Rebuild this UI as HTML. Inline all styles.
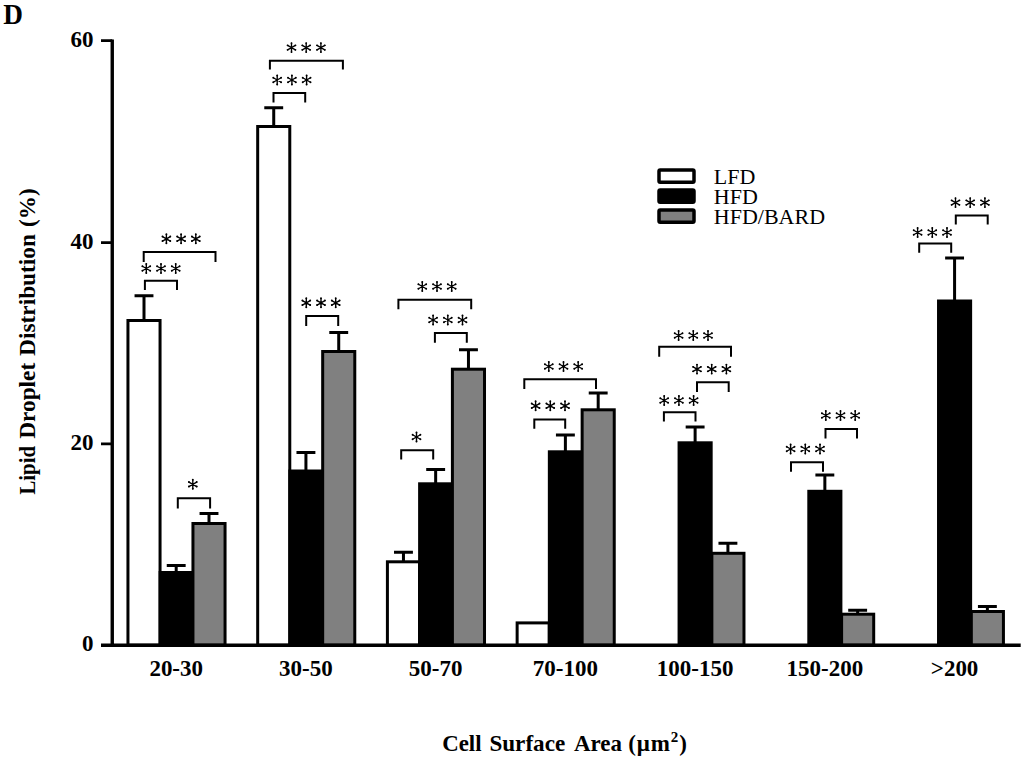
<!DOCTYPE html>
<html><head><meta charset="utf-8"><style>
html,body{margin:0;padding:0;background:#fff;width:1024px;height:760px;overflow:hidden}
svg{display:block}
text{font-family:"Liberation Serif",serif}
.b{font-weight:bold;font-size:23px}
.r{font-size:22px}
</style></head><body>
<svg width="1024" height="760" viewBox="0 0 1024 760">
<rect width="1024" height="760" fill="#fff"/>
<text transform="translate(3.3 23.9) scale(0.94 1)" style="font-weight:bold;font-size:29px">D</text>
<g class="b" text-anchor="end">
<text transform="translate(93.5 47.3) scale(1 1.0)">60</text>
<text transform="translate(93.5 248.7) scale(1 1.0)">40</text>
<text transform="translate(93.5 449.8) scale(1 1.0)">20</text>
<text transform="translate(93.5 650.8) scale(1 1.0)">0</text>
</g>
<g class="b" text-anchor="middle"><text transform="translate(176.2 675.8) scale(1 1.03)">20-30</text><text transform="translate(305.93 675.8) scale(1 1.03)">30-50</text><text transform="translate(435.66 675.8) scale(1 1.03)">50-70</text><text transform="translate(565.39 675.8) scale(1 1.03)">70-100</text><text transform="translate(695.12 675.8) scale(1 1.03)">100-150</text><text transform="translate(824.85 675.8) scale(1 1.03)">150-200</text><text transform="translate(954.58 675.8) scale(1 1.03)">&gt;200</text></g>
<g class="b" transform="translate(35 0) rotate(-90)">
<text x="-494.6" textLength="48.6" lengthAdjust="spacingAndGlyphs">Lipid</text>
<text x="-438.8" textLength="76" lengthAdjust="spacingAndGlyphs">Droplet</text>
<text x="-355.9" textLength="121.9" lengthAdjust="spacingAndGlyphs">Distribution</text>
<text x="-226.9" textLength="38.6" lengthAdjust="spacingAndGlyphs">(%)</text>
</g>
<g class="b">
<text x="442.2" y="751" textLength="39.4" lengthAdjust="spacingAndGlyphs">Cell</text>
<text x="489.4" y="751" textLength="75.8" lengthAdjust="spacingAndGlyphs">Surface</text>
<text x="574" y="751" textLength="48" lengthAdjust="spacingAndGlyphs">Area</text>
<text x="628.3" y="751" letter-spacing="0.9">(&#956;m<tspan dy="-9" font-size="15">2</tspan><tspan dy="9">)</tspan></text>
</g>
<rect x="127.95" y="320.5" width="32.1" height="324.7" fill="#fff" stroke="#000" stroke-width="3.0"/>
<rect x="160.15" y="572.5" width="32.1" height="72.7" fill="#000" stroke="#000" stroke-width="3.0"/>
<rect x="192.95" y="523.5" width="32.1" height="121.7" fill="#808080" stroke="#000" stroke-width="3.0"/>
<rect x="257.68" y="126.5" width="32.1" height="518.7" fill="#fff" stroke="#000" stroke-width="3.0"/>
<rect x="289.88" y="471" width="32.1" height="174.2" fill="#000" stroke="#000" stroke-width="3.0"/>
<rect x="322.68" y="351.5" width="32.1" height="293.7" fill="#808080" stroke="#000" stroke-width="3.0"/>
<rect x="387.41" y="561.8" width="32.1" height="83.4" fill="#fff" stroke="#000" stroke-width="3.0"/>
<rect x="419.61" y="483.8" width="32.1" height="161.4" fill="#000" stroke="#000" stroke-width="3.0"/>
<rect x="452.41" y="369.2" width="32.1" height="276" fill="#808080" stroke="#000" stroke-width="3.0"/>
<rect x="517.14" y="622.9" width="32.1" height="22.3" fill="#fff" stroke="#000" stroke-width="3.0"/>
<rect x="549.34" y="451.8" width="32.1" height="193.4" fill="#000" stroke="#000" stroke-width="3.0"/>
<rect x="582.14" y="409.8" width="32.1" height="235.4" fill="#808080" stroke="#000" stroke-width="3.0"/>
<rect x="679.07" y="442.8" width="32.1" height="202.4" fill="#000" stroke="#000" stroke-width="3.0"/>
<rect x="711.87" y="553.3" width="32.1" height="91.9" fill="#808080" stroke="#000" stroke-width="3.0"/>
<rect x="808.8" y="491.3" width="32.1" height="153.9" fill="#000" stroke="#000" stroke-width="3.0"/>
<rect x="841.6" y="614.2" width="32.1" height="31" fill="#808080" stroke="#000" stroke-width="3.0"/>
<rect x="938.53" y="301" width="32.1" height="344.2" fill="#000" stroke="#000" stroke-width="3.0"/>
<rect x="971.33" y="611.5" width="32.1" height="33.7" fill="#808080" stroke="#000" stroke-width="3.0"/>
<path d="M144 320.5V295.8M134.55 295.8H153.45" stroke="#000" stroke-width="3" fill="none"/>
<path d="M176.2 572.5V565.5M166.75 565.5H185.65" stroke="#000" stroke-width="3" fill="none"/>
<path d="M209 523.5V513.4M199.55 513.4H218.45" stroke="#000" stroke-width="3" fill="none"/>
<path d="M273.73 126.5V107.7M264.28 107.7H283.18" stroke="#000" stroke-width="3" fill="none"/>
<path d="M305.93 471V452.6M296.48 452.6H315.38" stroke="#000" stroke-width="3" fill="none"/>
<path d="M338.73 351.5V332.6M329.28 332.6H348.18" stroke="#000" stroke-width="3" fill="none"/>
<path d="M403.46 561.8V552.3M394.01 552.3H412.91" stroke="#000" stroke-width="3" fill="none"/>
<path d="M435.66 483.8V469.6M426.21 469.6H445.11" stroke="#000" stroke-width="3" fill="none"/>
<path d="M468.46 369.2V349.8M459.01 349.8H477.91" stroke="#000" stroke-width="3" fill="none"/>
<path d="M565.39 451.8V434.9M555.94 434.9H574.84" stroke="#000" stroke-width="3" fill="none"/>
<path d="M598.19 409.8V393M588.74 393H607.64" stroke="#000" stroke-width="3" fill="none"/>
<path d="M695.12 442.8V427.1M685.67 427.1H704.57" stroke="#000" stroke-width="3" fill="none"/>
<path d="M727.92 553.3V543.3M718.47 543.3H737.37" stroke="#000" stroke-width="3" fill="none"/>
<path d="M824.85 491.3V475M815.4 475H834.3" stroke="#000" stroke-width="3" fill="none"/>
<path d="M857.65 614.2V610.3M848.2 610.3H867.1" stroke="#000" stroke-width="3" fill="none"/>
<path d="M954.58 301V258M945.13 258H964.03" stroke="#000" stroke-width="3" fill="none"/>
<path d="M987.38 611.5V606.5M977.93 606.5H996.83" stroke="#000" stroke-width="3" fill="none"/>
<path d="M144.9 290V280.7H177V290M143.7 262V252.1H215.5V262M177.8 508.4V498.3H210.1V508.4M273.5 102.4V93H305.2V102.4M269.9 69.4V60.7H342.9V69.4M306.2 325.9V316H338.2V325.9M398.4 309.3V299.8H471.2V309.3M434.9 342.7V332.9H466.8V342.7M401.2 459.6V450.2H433.2V459.6M524.3 389V379.2H596V389M534.3 428.7V419.4H565.2V428.7M659.2 356.8V346.8H731V356.8M697 391.9V382.2H728.7V391.9M663.9 421.6V412.3H695.5V421.6M791 471.8V462.3H823V471.8M825.5 438.6V428.9H857V438.6M919.2 252.8V243.6H951.2V252.8M955.8 224.6V215.6H987.7V224.6" stroke="#000" stroke-width="2" fill="none"/>
<path d="M146.3 273L146.3 264M142.4 270.75L150.2 266.25M150.2 270.75L142.4 266.25M161 273L161 264M157.1 270.75L164.9 266.25M164.9 270.75L157.1 266.25M175.7 273L175.7 264M171.8 270.75L179.6 266.25M179.6 270.75L171.8 266.25M166.4 243.3L166.4 234.3M162.5 241.05L170.3 236.55M170.3 241.05L162.5 236.55M181.1 243.3L181.1 234.3M177.2 241.05L185 236.55M185 241.05L177.2 236.55M195.8 243.3L195.8 234.3M191.9 241.05L199.7 236.55M199.7 241.05L191.9 236.55M192.8 488.8L192.8 479.8M188.9 486.55L196.7 482.05M196.7 486.55L188.9 482.05M277.2 84.5L277.2 75.5M273.3 82.25L281.1 77.75M281.1 82.25L273.3 77.75M291.9 84.5L291.9 75.5M288 82.25L295.8 77.75M295.8 82.25L288 77.75M306.6 84.5L306.6 75.5M302.7 82.25L310.5 77.75M310.5 82.25L302.7 77.75M291.5 52.1L291.5 43.1M287.6 49.85L295.4 45.35M295.4 49.85L287.6 45.35M306.2 52.1L306.2 43.1M302.3 49.85L310.1 45.35M310.1 49.85L302.3 45.35M320.9 52.1L320.9 43.1M317 49.85L324.8 45.35M324.8 49.85L317 45.35M306.3 307.3L306.3 298.3M302.4 305.05L310.2 300.55M310.2 305.05L302.4 300.55M321 307.3L321 298.3M317.1 305.05L324.9 300.55M324.9 305.05L317.1 300.55M335.7 307.3L335.7 298.3M331.8 305.05L339.6 300.55M339.6 305.05L331.8 300.55M422.3 291L422.3 282M418.4 288.75L426.2 284.25M426.2 288.75L418.4 284.25M437 291L437 282M433.1 288.75L440.9 284.25M440.9 288.75L433.1 284.25M451.7 291L451.7 282M447.8 288.75L455.6 284.25M455.6 288.75L447.8 284.25M433.1 324.5L433.1 315.5M429.2 322.25L437 317.75M437 322.25L429.2 317.75M447.8 324.5L447.8 315.5M443.9 322.25L451.7 317.75M451.7 322.25L443.9 317.75M462.5 324.5L462.5 315.5M458.6 322.25L466.4 317.75M466.4 322.25L458.6 317.75M416.5 441.5L416.5 432.5M412.6 439.25L420.4 434.75M420.4 439.25L412.6 434.75M548.8 371L548.8 362M544.9 368.75L552.7 364.25M552.7 368.75L544.9 364.25M563.5 371L563.5 362M559.6 368.75L567.4 364.25M567.4 368.75L559.6 364.25M578.2 371L578.2 362M574.3 368.75L582.1 364.25M582.1 368.75L574.3 364.25M535.6 410.3L535.6 401.3M531.7 408.05L539.5 403.55M539.5 408.05L531.7 403.55M550.3 410.3L550.3 401.3M546.4 408.05L554.2 403.55M554.2 408.05L546.4 403.55M565 410.3L565 401.3M561.1 408.05L568.9 403.55M568.9 408.05L561.1 403.55M678.6 340L678.6 331M674.7 337.75L682.5 333.25M682.5 337.75L674.7 333.25M693.3 340L693.3 331M689.4 337.75L697.2 333.25M697.2 337.75L689.4 333.25M708 340L708 331M704.1 337.75L711.9 333.25M711.9 337.75L704.1 333.25M697 373.6L697 364.6M693.1 371.35L700.9 366.85M700.9 371.35L693.1 366.85M711.7 373.6L711.7 364.6M707.8 371.35L715.6 366.85M715.6 371.35L707.8 366.85M726.4 373.6L726.4 364.6M722.5 371.35L730.3 366.85M730.3 371.35L722.5 366.85M664.2 405L664.2 396M660.3 402.75L668.1 398.25M668.1 402.75L660.3 398.25M678.9 405L678.9 396M675 402.75L682.8 398.25M682.8 402.75L675 398.25M693.6 405L693.6 396M689.7 402.75L697.5 398.25M697.5 402.75L689.7 398.25M790.6 453.5L790.6 444.5M786.7 451.25L794.5 446.75M794.5 451.25L786.7 446.75M805.3 453.5L805.3 444.5M801.4 451.25L809.2 446.75M809.2 451.25L801.4 446.75M820 453.5L820 444.5M816.1 451.25L823.9 446.75M823.9 451.25L816.1 446.75M825.8 420L825.8 411M821.9 417.75L829.7 413.25M829.7 417.75L821.9 413.25M840.5 420L840.5 411M836.6 417.75L844.4 413.25M844.4 417.75L836.6 413.25M855.2 420L855.2 411M851.3 417.75L859.1 413.25M859.1 417.75L851.3 413.25M917.6 237L917.6 228M913.7 234.75L921.5 230.25M921.5 234.75L913.7 230.25M932.3 237L932.3 228M928.4 234.75L936.2 230.25M936.2 234.75L928.4 230.25M947 237L947 228M943.1 234.75L950.9 230.25M950.9 234.75L943.1 230.25M955.5 207.1L955.5 198.1M951.6 204.85L959.4 200.35M959.4 204.85L951.6 200.35M970.2 207.1L970.2 198.1M966.3 204.85L974.1 200.35M974.1 204.85L966.3 200.35M984.9 207.1L984.9 198.1M981 204.85L988.8 200.35M988.8 204.85L981 200.35" stroke="#000" stroke-width="1.35" stroke-linecap="round" fill="none"/>
<g fill="#000"><circle cx="150.2" cy="266.25" r="0.95"/><circle cx="146.3" cy="264" r="0.95"/><circle cx="142.4" cy="266.25" r="0.95"/><circle cx="142.4" cy="270.75" r="0.95"/><circle cx="146.3" cy="273" r="0.95"/><circle cx="150.2" cy="270.75" r="0.95"/><circle cx="146.3" cy="268.5" r="0.9"/><circle cx="164.9" cy="266.25" r="0.95"/><circle cx="161" cy="264" r="0.95"/><circle cx="157.1" cy="266.25" r="0.95"/><circle cx="157.1" cy="270.75" r="0.95"/><circle cx="161" cy="273" r="0.95"/><circle cx="164.9" cy="270.75" r="0.95"/><circle cx="161" cy="268.5" r="0.9"/><circle cx="179.6" cy="266.25" r="0.95"/><circle cx="175.7" cy="264" r="0.95"/><circle cx="171.8" cy="266.25" r="0.95"/><circle cx="171.8" cy="270.75" r="0.95"/><circle cx="175.7" cy="273" r="0.95"/><circle cx="179.6" cy="270.75" r="0.95"/><circle cx="175.7" cy="268.5" r="0.9"/><circle cx="170.3" cy="236.55" r="0.95"/><circle cx="166.4" cy="234.3" r="0.95"/><circle cx="162.5" cy="236.55" r="0.95"/><circle cx="162.5" cy="241.05" r="0.95"/><circle cx="166.4" cy="243.3" r="0.95"/><circle cx="170.3" cy="241.05" r="0.95"/><circle cx="166.4" cy="238.8" r="0.9"/><circle cx="185" cy="236.55" r="0.95"/><circle cx="181.1" cy="234.3" r="0.95"/><circle cx="177.2" cy="236.55" r="0.95"/><circle cx="177.2" cy="241.05" r="0.95"/><circle cx="181.1" cy="243.3" r="0.95"/><circle cx="185" cy="241.05" r="0.95"/><circle cx="181.1" cy="238.8" r="0.9"/><circle cx="199.7" cy="236.55" r="0.95"/><circle cx="195.8" cy="234.3" r="0.95"/><circle cx="191.9" cy="236.55" r="0.95"/><circle cx="191.9" cy="241.05" r="0.95"/><circle cx="195.8" cy="243.3" r="0.95"/><circle cx="199.7" cy="241.05" r="0.95"/><circle cx="195.8" cy="238.8" r="0.9"/><circle cx="196.7" cy="482.05" r="0.95"/><circle cx="192.8" cy="479.8" r="0.95"/><circle cx="188.9" cy="482.05" r="0.95"/><circle cx="188.9" cy="486.55" r="0.95"/><circle cx="192.8" cy="488.8" r="0.95"/><circle cx="196.7" cy="486.55" r="0.95"/><circle cx="192.8" cy="484.3" r="0.9"/><circle cx="281.1" cy="77.75" r="0.95"/><circle cx="277.2" cy="75.5" r="0.95"/><circle cx="273.3" cy="77.75" r="0.95"/><circle cx="273.3" cy="82.25" r="0.95"/><circle cx="277.2" cy="84.5" r="0.95"/><circle cx="281.1" cy="82.25" r="0.95"/><circle cx="277.2" cy="80" r="0.9"/><circle cx="295.8" cy="77.75" r="0.95"/><circle cx="291.9" cy="75.5" r="0.95"/><circle cx="288" cy="77.75" r="0.95"/><circle cx="288" cy="82.25" r="0.95"/><circle cx="291.9" cy="84.5" r="0.95"/><circle cx="295.8" cy="82.25" r="0.95"/><circle cx="291.9" cy="80" r="0.9"/><circle cx="310.5" cy="77.75" r="0.95"/><circle cx="306.6" cy="75.5" r="0.95"/><circle cx="302.7" cy="77.75" r="0.95"/><circle cx="302.7" cy="82.25" r="0.95"/><circle cx="306.6" cy="84.5" r="0.95"/><circle cx="310.5" cy="82.25" r="0.95"/><circle cx="306.6" cy="80" r="0.9"/><circle cx="295.4" cy="45.35" r="0.95"/><circle cx="291.5" cy="43.1" r="0.95"/><circle cx="287.6" cy="45.35" r="0.95"/><circle cx="287.6" cy="49.85" r="0.95"/><circle cx="291.5" cy="52.1" r="0.95"/><circle cx="295.4" cy="49.85" r="0.95"/><circle cx="291.5" cy="47.6" r="0.9"/><circle cx="310.1" cy="45.35" r="0.95"/><circle cx="306.2" cy="43.1" r="0.95"/><circle cx="302.3" cy="45.35" r="0.95"/><circle cx="302.3" cy="49.85" r="0.95"/><circle cx="306.2" cy="52.1" r="0.95"/><circle cx="310.1" cy="49.85" r="0.95"/><circle cx="306.2" cy="47.6" r="0.9"/><circle cx="324.8" cy="45.35" r="0.95"/><circle cx="320.9" cy="43.1" r="0.95"/><circle cx="317" cy="45.35" r="0.95"/><circle cx="317" cy="49.85" r="0.95"/><circle cx="320.9" cy="52.1" r="0.95"/><circle cx="324.8" cy="49.85" r="0.95"/><circle cx="320.9" cy="47.6" r="0.9"/><circle cx="310.2" cy="300.55" r="0.95"/><circle cx="306.3" cy="298.3" r="0.95"/><circle cx="302.4" cy="300.55" r="0.95"/><circle cx="302.4" cy="305.05" r="0.95"/><circle cx="306.3" cy="307.3" r="0.95"/><circle cx="310.2" cy="305.05" r="0.95"/><circle cx="306.3" cy="302.8" r="0.9"/><circle cx="324.9" cy="300.55" r="0.95"/><circle cx="321" cy="298.3" r="0.95"/><circle cx="317.1" cy="300.55" r="0.95"/><circle cx="317.1" cy="305.05" r="0.95"/><circle cx="321" cy="307.3" r="0.95"/><circle cx="324.9" cy="305.05" r="0.95"/><circle cx="321" cy="302.8" r="0.9"/><circle cx="339.6" cy="300.55" r="0.95"/><circle cx="335.7" cy="298.3" r="0.95"/><circle cx="331.8" cy="300.55" r="0.95"/><circle cx="331.8" cy="305.05" r="0.95"/><circle cx="335.7" cy="307.3" r="0.95"/><circle cx="339.6" cy="305.05" r="0.95"/><circle cx="335.7" cy="302.8" r="0.9"/><circle cx="426.2" cy="284.25" r="0.95"/><circle cx="422.3" cy="282" r="0.95"/><circle cx="418.4" cy="284.25" r="0.95"/><circle cx="418.4" cy="288.75" r="0.95"/><circle cx="422.3" cy="291" r="0.95"/><circle cx="426.2" cy="288.75" r="0.95"/><circle cx="422.3" cy="286.5" r="0.9"/><circle cx="440.9" cy="284.25" r="0.95"/><circle cx="437" cy="282" r="0.95"/><circle cx="433.1" cy="284.25" r="0.95"/><circle cx="433.1" cy="288.75" r="0.95"/><circle cx="437" cy="291" r="0.95"/><circle cx="440.9" cy="288.75" r="0.95"/><circle cx="437" cy="286.5" r="0.9"/><circle cx="455.6" cy="284.25" r="0.95"/><circle cx="451.7" cy="282" r="0.95"/><circle cx="447.8" cy="284.25" r="0.95"/><circle cx="447.8" cy="288.75" r="0.95"/><circle cx="451.7" cy="291" r="0.95"/><circle cx="455.6" cy="288.75" r="0.95"/><circle cx="451.7" cy="286.5" r="0.9"/><circle cx="437" cy="317.75" r="0.95"/><circle cx="433.1" cy="315.5" r="0.95"/><circle cx="429.2" cy="317.75" r="0.95"/><circle cx="429.2" cy="322.25" r="0.95"/><circle cx="433.1" cy="324.5" r="0.95"/><circle cx="437" cy="322.25" r="0.95"/><circle cx="433.1" cy="320" r="0.9"/><circle cx="451.7" cy="317.75" r="0.95"/><circle cx="447.8" cy="315.5" r="0.95"/><circle cx="443.9" cy="317.75" r="0.95"/><circle cx="443.9" cy="322.25" r="0.95"/><circle cx="447.8" cy="324.5" r="0.95"/><circle cx="451.7" cy="322.25" r="0.95"/><circle cx="447.8" cy="320" r="0.9"/><circle cx="466.4" cy="317.75" r="0.95"/><circle cx="462.5" cy="315.5" r="0.95"/><circle cx="458.6" cy="317.75" r="0.95"/><circle cx="458.6" cy="322.25" r="0.95"/><circle cx="462.5" cy="324.5" r="0.95"/><circle cx="466.4" cy="322.25" r="0.95"/><circle cx="462.5" cy="320" r="0.9"/><circle cx="420.4" cy="434.75" r="0.95"/><circle cx="416.5" cy="432.5" r="0.95"/><circle cx="412.6" cy="434.75" r="0.95"/><circle cx="412.6" cy="439.25" r="0.95"/><circle cx="416.5" cy="441.5" r="0.95"/><circle cx="420.4" cy="439.25" r="0.95"/><circle cx="416.5" cy="437" r="0.9"/><circle cx="552.7" cy="364.25" r="0.95"/><circle cx="548.8" cy="362" r="0.95"/><circle cx="544.9" cy="364.25" r="0.95"/><circle cx="544.9" cy="368.75" r="0.95"/><circle cx="548.8" cy="371" r="0.95"/><circle cx="552.7" cy="368.75" r="0.95"/><circle cx="548.8" cy="366.5" r="0.9"/><circle cx="567.4" cy="364.25" r="0.95"/><circle cx="563.5" cy="362" r="0.95"/><circle cx="559.6" cy="364.25" r="0.95"/><circle cx="559.6" cy="368.75" r="0.95"/><circle cx="563.5" cy="371" r="0.95"/><circle cx="567.4" cy="368.75" r="0.95"/><circle cx="563.5" cy="366.5" r="0.9"/><circle cx="582.1" cy="364.25" r="0.95"/><circle cx="578.2" cy="362" r="0.95"/><circle cx="574.3" cy="364.25" r="0.95"/><circle cx="574.3" cy="368.75" r="0.95"/><circle cx="578.2" cy="371" r="0.95"/><circle cx="582.1" cy="368.75" r="0.95"/><circle cx="578.2" cy="366.5" r="0.9"/><circle cx="539.5" cy="403.55" r="0.95"/><circle cx="535.6" cy="401.3" r="0.95"/><circle cx="531.7" cy="403.55" r="0.95"/><circle cx="531.7" cy="408.05" r="0.95"/><circle cx="535.6" cy="410.3" r="0.95"/><circle cx="539.5" cy="408.05" r="0.95"/><circle cx="535.6" cy="405.8" r="0.9"/><circle cx="554.2" cy="403.55" r="0.95"/><circle cx="550.3" cy="401.3" r="0.95"/><circle cx="546.4" cy="403.55" r="0.95"/><circle cx="546.4" cy="408.05" r="0.95"/><circle cx="550.3" cy="410.3" r="0.95"/><circle cx="554.2" cy="408.05" r="0.95"/><circle cx="550.3" cy="405.8" r="0.9"/><circle cx="568.9" cy="403.55" r="0.95"/><circle cx="565" cy="401.3" r="0.95"/><circle cx="561.1" cy="403.55" r="0.95"/><circle cx="561.1" cy="408.05" r="0.95"/><circle cx="565" cy="410.3" r="0.95"/><circle cx="568.9" cy="408.05" r="0.95"/><circle cx="565" cy="405.8" r="0.9"/><circle cx="682.5" cy="333.25" r="0.95"/><circle cx="678.6" cy="331" r="0.95"/><circle cx="674.7" cy="333.25" r="0.95"/><circle cx="674.7" cy="337.75" r="0.95"/><circle cx="678.6" cy="340" r="0.95"/><circle cx="682.5" cy="337.75" r="0.95"/><circle cx="678.6" cy="335.5" r="0.9"/><circle cx="697.2" cy="333.25" r="0.95"/><circle cx="693.3" cy="331" r="0.95"/><circle cx="689.4" cy="333.25" r="0.95"/><circle cx="689.4" cy="337.75" r="0.95"/><circle cx="693.3" cy="340" r="0.95"/><circle cx="697.2" cy="337.75" r="0.95"/><circle cx="693.3" cy="335.5" r="0.9"/><circle cx="711.9" cy="333.25" r="0.95"/><circle cx="708" cy="331" r="0.95"/><circle cx="704.1" cy="333.25" r="0.95"/><circle cx="704.1" cy="337.75" r="0.95"/><circle cx="708" cy="340" r="0.95"/><circle cx="711.9" cy="337.75" r="0.95"/><circle cx="708" cy="335.5" r="0.9"/><circle cx="700.9" cy="366.85" r="0.95"/><circle cx="697" cy="364.6" r="0.95"/><circle cx="693.1" cy="366.85" r="0.95"/><circle cx="693.1" cy="371.35" r="0.95"/><circle cx="697" cy="373.6" r="0.95"/><circle cx="700.9" cy="371.35" r="0.95"/><circle cx="697" cy="369.1" r="0.9"/><circle cx="715.6" cy="366.85" r="0.95"/><circle cx="711.7" cy="364.6" r="0.95"/><circle cx="707.8" cy="366.85" r="0.95"/><circle cx="707.8" cy="371.35" r="0.95"/><circle cx="711.7" cy="373.6" r="0.95"/><circle cx="715.6" cy="371.35" r="0.95"/><circle cx="711.7" cy="369.1" r="0.9"/><circle cx="730.3" cy="366.85" r="0.95"/><circle cx="726.4" cy="364.6" r="0.95"/><circle cx="722.5" cy="366.85" r="0.95"/><circle cx="722.5" cy="371.35" r="0.95"/><circle cx="726.4" cy="373.6" r="0.95"/><circle cx="730.3" cy="371.35" r="0.95"/><circle cx="726.4" cy="369.1" r="0.9"/><circle cx="668.1" cy="398.25" r="0.95"/><circle cx="664.2" cy="396" r="0.95"/><circle cx="660.3" cy="398.25" r="0.95"/><circle cx="660.3" cy="402.75" r="0.95"/><circle cx="664.2" cy="405" r="0.95"/><circle cx="668.1" cy="402.75" r="0.95"/><circle cx="664.2" cy="400.5" r="0.9"/><circle cx="682.8" cy="398.25" r="0.95"/><circle cx="678.9" cy="396" r="0.95"/><circle cx="675" cy="398.25" r="0.95"/><circle cx="675" cy="402.75" r="0.95"/><circle cx="678.9" cy="405" r="0.95"/><circle cx="682.8" cy="402.75" r="0.95"/><circle cx="678.9" cy="400.5" r="0.9"/><circle cx="697.5" cy="398.25" r="0.95"/><circle cx="693.6" cy="396" r="0.95"/><circle cx="689.7" cy="398.25" r="0.95"/><circle cx="689.7" cy="402.75" r="0.95"/><circle cx="693.6" cy="405" r="0.95"/><circle cx="697.5" cy="402.75" r="0.95"/><circle cx="693.6" cy="400.5" r="0.9"/><circle cx="794.5" cy="446.75" r="0.95"/><circle cx="790.6" cy="444.5" r="0.95"/><circle cx="786.7" cy="446.75" r="0.95"/><circle cx="786.7" cy="451.25" r="0.95"/><circle cx="790.6" cy="453.5" r="0.95"/><circle cx="794.5" cy="451.25" r="0.95"/><circle cx="790.6" cy="449" r="0.9"/><circle cx="809.2" cy="446.75" r="0.95"/><circle cx="805.3" cy="444.5" r="0.95"/><circle cx="801.4" cy="446.75" r="0.95"/><circle cx="801.4" cy="451.25" r="0.95"/><circle cx="805.3" cy="453.5" r="0.95"/><circle cx="809.2" cy="451.25" r="0.95"/><circle cx="805.3" cy="449" r="0.9"/><circle cx="823.9" cy="446.75" r="0.95"/><circle cx="820" cy="444.5" r="0.95"/><circle cx="816.1" cy="446.75" r="0.95"/><circle cx="816.1" cy="451.25" r="0.95"/><circle cx="820" cy="453.5" r="0.95"/><circle cx="823.9" cy="451.25" r="0.95"/><circle cx="820" cy="449" r="0.9"/><circle cx="829.7" cy="413.25" r="0.95"/><circle cx="825.8" cy="411" r="0.95"/><circle cx="821.9" cy="413.25" r="0.95"/><circle cx="821.9" cy="417.75" r="0.95"/><circle cx="825.8" cy="420" r="0.95"/><circle cx="829.7" cy="417.75" r="0.95"/><circle cx="825.8" cy="415.5" r="0.9"/><circle cx="844.4" cy="413.25" r="0.95"/><circle cx="840.5" cy="411" r="0.95"/><circle cx="836.6" cy="413.25" r="0.95"/><circle cx="836.6" cy="417.75" r="0.95"/><circle cx="840.5" cy="420" r="0.95"/><circle cx="844.4" cy="417.75" r="0.95"/><circle cx="840.5" cy="415.5" r="0.9"/><circle cx="859.1" cy="413.25" r="0.95"/><circle cx="855.2" cy="411" r="0.95"/><circle cx="851.3" cy="413.25" r="0.95"/><circle cx="851.3" cy="417.75" r="0.95"/><circle cx="855.2" cy="420" r="0.95"/><circle cx="859.1" cy="417.75" r="0.95"/><circle cx="855.2" cy="415.5" r="0.9"/><circle cx="921.5" cy="230.25" r="0.95"/><circle cx="917.6" cy="228" r="0.95"/><circle cx="913.7" cy="230.25" r="0.95"/><circle cx="913.7" cy="234.75" r="0.95"/><circle cx="917.6" cy="237" r="0.95"/><circle cx="921.5" cy="234.75" r="0.95"/><circle cx="917.6" cy="232.5" r="0.9"/><circle cx="936.2" cy="230.25" r="0.95"/><circle cx="932.3" cy="228" r="0.95"/><circle cx="928.4" cy="230.25" r="0.95"/><circle cx="928.4" cy="234.75" r="0.95"/><circle cx="932.3" cy="237" r="0.95"/><circle cx="936.2" cy="234.75" r="0.95"/><circle cx="932.3" cy="232.5" r="0.9"/><circle cx="950.9" cy="230.25" r="0.95"/><circle cx="947" cy="228" r="0.95"/><circle cx="943.1" cy="230.25" r="0.95"/><circle cx="943.1" cy="234.75" r="0.95"/><circle cx="947" cy="237" r="0.95"/><circle cx="950.9" cy="234.75" r="0.95"/><circle cx="947" cy="232.5" r="0.9"/><circle cx="959.4" cy="200.35" r="0.95"/><circle cx="955.5" cy="198.1" r="0.95"/><circle cx="951.6" cy="200.35" r="0.95"/><circle cx="951.6" cy="204.85" r="0.95"/><circle cx="955.5" cy="207.1" r="0.95"/><circle cx="959.4" cy="204.85" r="0.95"/><circle cx="955.5" cy="202.6" r="0.9"/><circle cx="974.1" cy="200.35" r="0.95"/><circle cx="970.2" cy="198.1" r="0.95"/><circle cx="966.3" cy="200.35" r="0.95"/><circle cx="966.3" cy="204.85" r="0.95"/><circle cx="970.2" cy="207.1" r="0.95"/><circle cx="974.1" cy="204.85" r="0.95"/><circle cx="970.2" cy="202.6" r="0.9"/><circle cx="988.8" cy="200.35" r="0.95"/><circle cx="984.9" cy="198.1" r="0.95"/><circle cx="981" cy="200.35" r="0.95"/><circle cx="981" cy="204.85" r="0.95"/><circle cx="984.9" cy="207.1" r="0.95"/><circle cx="988.8" cy="204.85" r="0.95"/><circle cx="984.9" cy="202.6" r="0.9"/></g>
<path d="M112.25 39.4V647M101 645.2H1020.7" stroke="#000" stroke-width="3.4" fill="none"/>
<path d="M101 40.7H112.25M101 242.6H112.25M101 443.9H112.25" stroke="#000" stroke-width="2.7" fill="none"/>
<g stroke="#000" stroke-width="3.5">
<rect x="659" y="170" width="35" height="12.3" rx="1.2" fill="#fff"/>
<rect x="659" y="190" width="35" height="12.3" rx="1.2" fill="#000"/>
<rect x="659" y="210" width="35" height="12.3" rx="1.2" fill="#808080"/>
</g>
<g class="r">
<text x="713.8" y="184.3">LFD</text>
<text x="713.8" y="203.9">HFD</text>
<text x="713.8" y="223.8">HFD/BARD</text>
</g>
</svg>
</body></html>
